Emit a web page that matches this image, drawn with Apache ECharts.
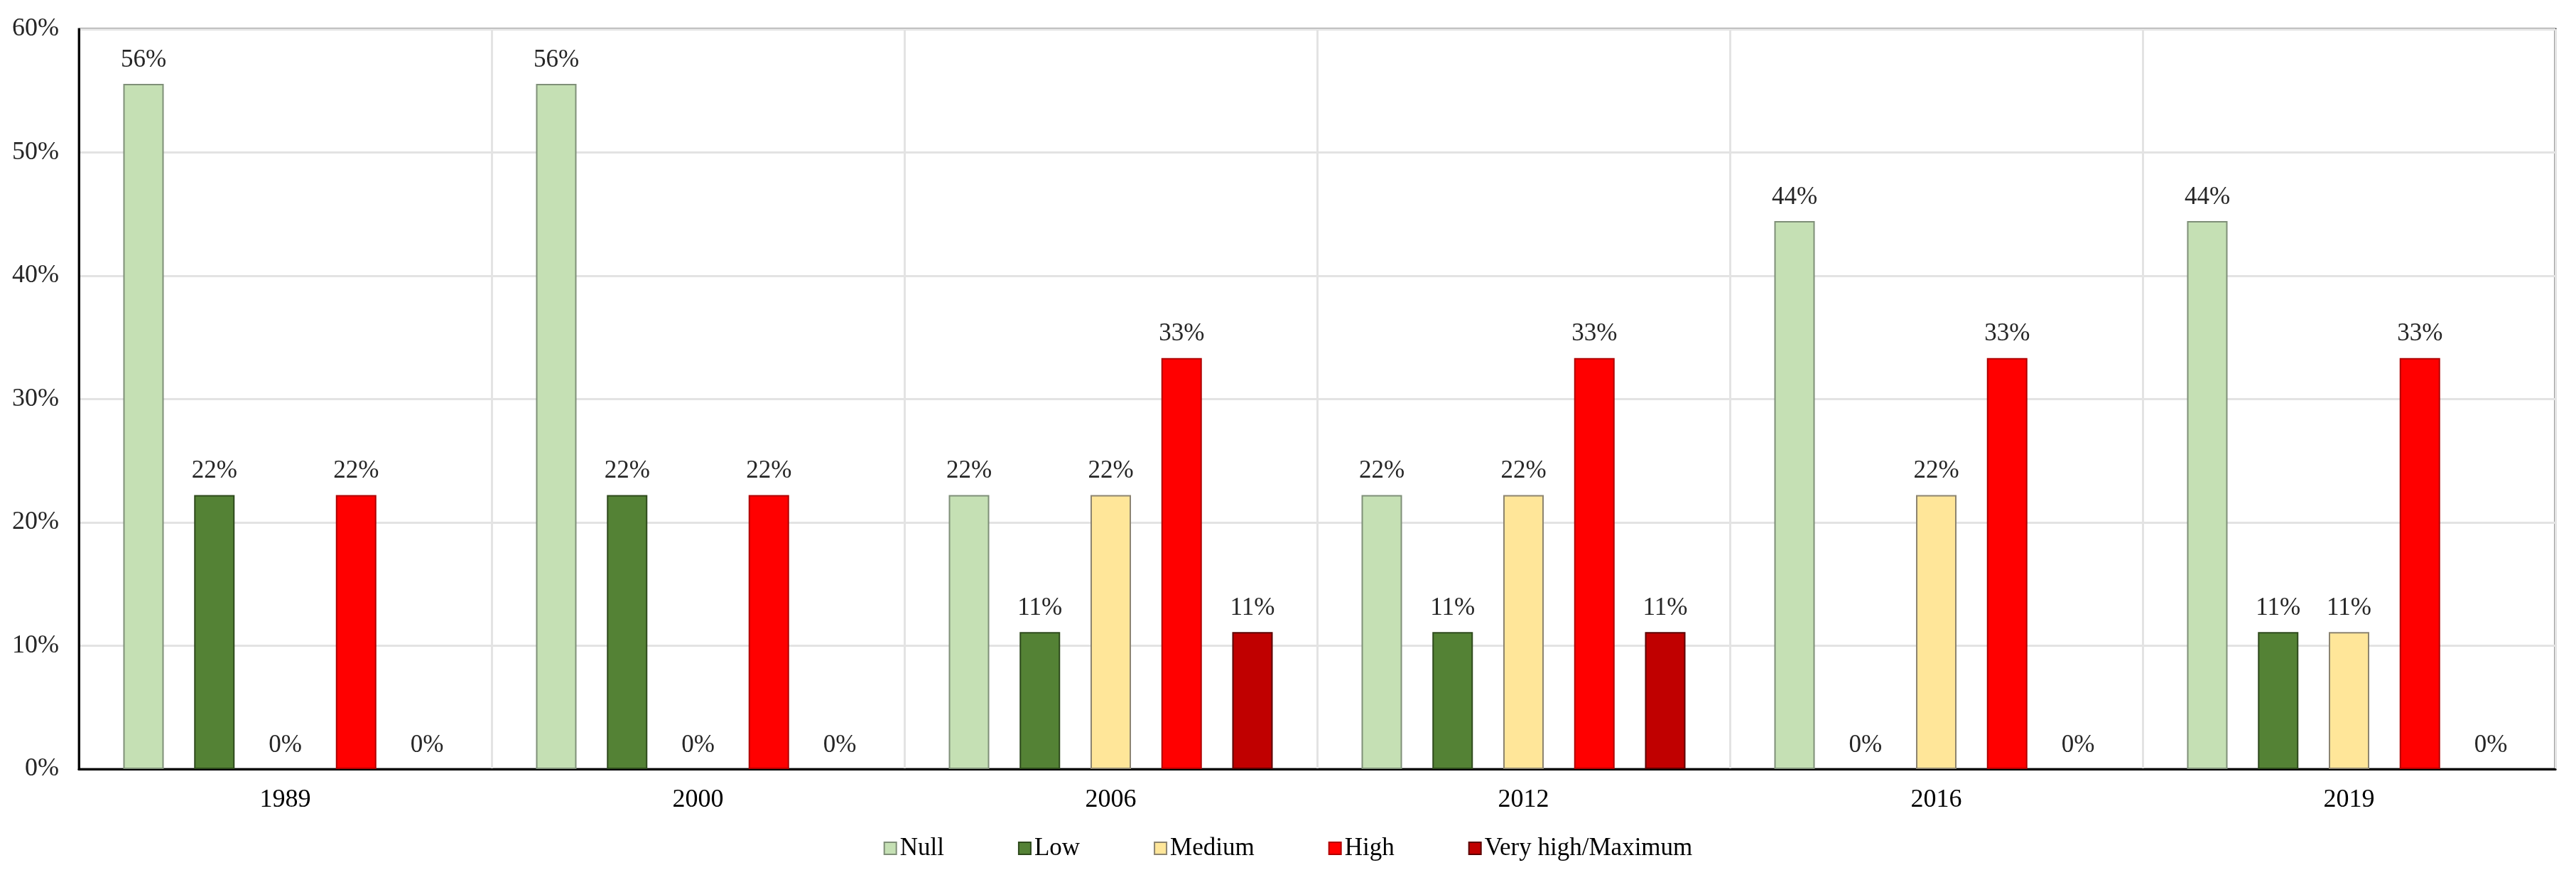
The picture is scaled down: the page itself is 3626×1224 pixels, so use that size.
<!DOCTYPE html>
<html>
<head>
<meta charset="utf-8">
<script src="https://cdn.jsdelivr.net/npm/echarts@6/dist/echarts.min.js"></script>
<style>html,body{margin:0;padding:0;background:#fff;}#c{width:3626px;height:1224px;}</style>
</head>
<body>
<div id="c"></div>
<script>
const categories = ['1989', '2000', '2006', '2012', '2016', '2019'];
const nullVals   = [55.56, 55.56, 22.22, 22.22, 44.44, 44.44];
const lowVals    = [22.22, 22.22, 11.11, 11.11, 0, 11.11];
const mediumVals = [0, 0, 22.22, 22.22, 22.22, 11.11];
const highVals   = [22.22, 22.22, 33.33, 33.33, 33.33, 33.33];
const veryHighVals = [0, 0, 11.11, 11.11, 0, 0];
const seriesNames = ['Null', 'Low', 'Medium', 'High', 'Very high/Maximum'];
const yTicks = [0, 10, 20, 30, 40, 50, 60];

const FONT = 'Liberation Serif';
const fills = ['#c5e0b4', '#548235', '#ffe699', '#ff0000', '#c00000'];
const borders = ['#7f8f78', '#2e4a1c', '#8c8470', '#b00000', '#5a0000'];
const dataSets = [nullVals, lowVals, mediumVals, highVals, veryHighVals];

const chart = echarts.init(document.getElementById('c'), null, {renderer: 'canvas'});
chart.setOption({
  backgroundColor: '#ffffff',
  animation: false,
  grid: {left: 111, right: 29, top: 41, bottom: 142, show: true, borderColor: '#3a3a3a', borderWidth: 3, containLabel: false},
  legend: {
    bottom: 8, left: 'center',
    itemWidth: 17, itemHeight: 17, itemGap: 104,
    icon: 'rect',
    textStyle: {fontFamily: FONT, fontSize: 35, color: '#000', padding: [0, 0, 0, 0]},
    data: seriesNames
  },
  xAxis: {
    type: 'category', data: categories,
    axisLine: {lineStyle: {color: '#000', width: 3}},
    axisTick: {show: false},
    axisLabel: {fontFamily: FONT, fontSize: 36, color: '#000', margin: 26},
    splitLine: {show: true, lineStyle: {color: '#e3e3e3', width: 3}}
  },
  yAxis: {
    type: 'value', min: yTicks[0], max: yTicks[yTicks.length - 1], interval: 10,
    axisLine: {show: true, lineStyle: {color: '#000', width: 3}},
    axisTick: {show: false},
    axisLabel: {fontFamily: FONT, fontSize: 36, color: '#262626', margin: 28, formatter: v => v + '%'},
    splitLine: {show: true, lineStyle: {color: '#e3e3e3', width: 3}}
  },
  series: seriesNames.map((name, i) => ({
    name: name, type: 'bar',
    data: dataSets[i].map(v => v === 0 ? {value: v, itemStyle: {borderWidth: 0}} : v),
    barWidth: 57, barGap: '75%',
    itemStyle: {color: fills[i], borderColor: borders[i], borderWidth: 2},
    label: {show: true, position: 'top', distance: 16, fontFamily: FONT, fontSize: 35, color: '#262626',
      formatter: p => Math.round(p.value) + '%'}
  }))
});
</script>
</body>
</html>
